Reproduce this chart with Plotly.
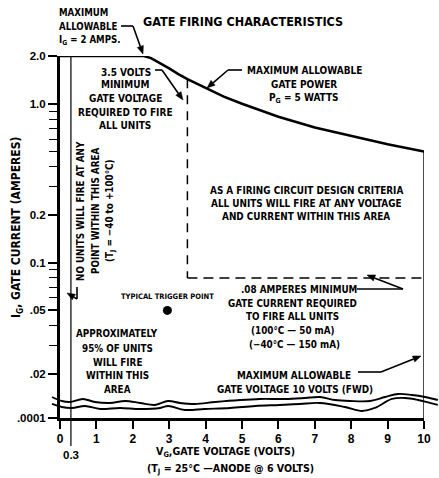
import math
import plotly.graph_objects as go

# ---------------- data ----------------
# maximum allowable gate current (2 A) then maximum gate power (5 W) boundary
curve_volts = [0.0, 2.3, 2.5, 2.75, 3.0, 3.25, 3.5, 4.0, 4.5, 5.0, 5.5, 6.0, 7.0, 8.0, 9.0, 10.0]
curve_amps = [2.0, 2.0, 1.94, 1.81, 1.67, 1.54, 1.43, 1.26, 1.11, 1.0, 0.91, 0.83, 0.71, 0.625, 0.556, 0.5]

# minimum gate voltage (3.5 V) and minimum gate current (0.08 A) dashed limits
min_v_volts = [3.5, 3.5]
min_v_amps = [1.43, 0.08]
min_i_volts = [3.5, 10.0]
min_i_amps = [0.08, 0.08]

# maximum allowable gate voltage (10 V) boundary
max_v_volts = [10.0, 10.0]
max_v_amps = [0.5, 0.0105]

# typical trigger point
trigger_volts = [2.95]
trigger_amps = [0.05]

# no-fire boundary at 0.3 V
nofire_volts = 0.3

# axis-break wavy lines
wave_upper_volts = [-0.22, 0.05, 0.27, 0.63, 0.96, 1.37, 1.79, 2.20, 2.61, 2.97, 3.30, 3.71, 4.26,
                    4.95, 5.49, 6.18, 6.73, 7.14, 7.55, 7.97, 8.52, 8.93, 9.29, 9.67, 10.03, 10.38]
wave_upper_amps = [0.01424, 0.01344, 0.01325, 0.01384, 0.01325, 0.01306, 0.01344, 0.01306, 0.01269,
                   0.01344, 0.01306, 0.01287, 0.01325, 0.01364, 0.01384, 0.01384, 0.01404, 0.01424,
                   0.01364, 0.01344, 0.01344, 0.01424, 0.01488, 0.01466, 0.01424, 0.01364]
wave_lower_volts = [-0.22, 0.05, 0.33, 0.69, 1.10, 1.65, 2.20, 2.75, 2.97, 3.43, 3.98, 4.67, 5.36,
                    6.04, 6.59, 7.14, 7.83, 8.30, 8.65, 9.12, 9.48, 9.84, 10.16, 10.38]
wave_lower_amps = [0.01287, 0.01232, 0.01215, 0.01250, 0.01197, 0.01215, 0.01197, 0.01215, 0.01250,
                   0.01180, 0.01197, 0.01215, 0.01250, 0.01269, 0.01287, 0.01306, 0.01232, 0.01163,
                   0.01215, 0.01384, 0.01404, 0.01364, 0.01306, 0.01269]

# ticks
x_tick_vals = [0, 1, 2, 3, 4, 5, 6, 7, 8, 9, 10]
y_tick_vals = [2.0, 1.0, 0.2, 0.1, 0.05, 0.02, 0.0105]
y_tick_text = ["2.0", "1.0", "0.2", "0.1", ".05", ".02", ".0001"]
y_minor_vals = [0.9, 0.8, 0.7, 0.6, 0.5, 0.4, 0.3, 0.09, 0.08, 0.07, 0.06, 0.04, 0.03]

# ---------------- layout helpers ----------------
W, H = 439, 478
L, R, T, B = 50, 0, 56, 60
PW, PH = W - L - R, H - T - B
X0_PX, X10_PX = 60, 424
V_PER_PX = 10.0 / (X10_PX - X0_PX)


def px(x):
    return (x - L) / PW


def py(y):
    return 1 - (y - T) / PH


FONT = "Liberation Sans Narrow, Arial Narrow, DejaVu Sans Condensed, Roboto, sans-serif"
TICKFONT = "Liberation Sans, Arial, sans-serif"


def txt(text, x, y, size=11, xanchor="center", angle=0, weight="bold"):
    return dict(text=text, x=px(x), y=py(y), xref="paper", yref="paper", showarrow=False,
                xanchor=xanchor, yanchor="middle", align="center", textangle=angle,
                font=dict(family=FONT, size=size, color="black", weight=weight))


def block(texts, xs, ys, size, xanchor="center", angle=0):
    return [txt(t, x, y, size=size, xanchor=xanchor, angle=angle) for t, x, y in zip(texts, xs, ys)]


def seg(x0, y0, x1, y1, w=1.6):
    return dict(type="line", xref="paper", yref="paper", x0=px(x0), y0=py(y0), x1=px(x1), y1=py(y1),
                line=dict(color="black", width=w))


def arrow(hx, hy, tx, ty, length=8.0, half=3.2):
    """Leader line from tail (tx, ty) to a filled arrowhead at (hx, hy), in picture pixels."""
    dx, dy = hx - tx, hy - ty
    n = math.hypot(dx, dy)
    ux, uy = dx / n, dy / n
    bx, by = hx - ux * length, hy - uy * length
    p1 = (bx - uy * half, by + ux * half)
    p2 = (bx + uy * half, by - ux * half)
    path = "M {} {} L {} {} L {} {} Z".format(px(hx), py(hy), px(p1[0]), py(p1[1]), px(p2[0]), py(p2[1]))
    return [seg(tx, ty, bx, by),
            dict(type="path", xref="paper", yref="paper", path=path,
                 fillcolor="black", line=dict(color="black", width=0.5))]


fig = go.Figure()

fig.add_trace(go.Scatter(x=curve_volts, y=curve_amps, mode="lines",
                         line=dict(color="black", width=2.6), hoverinfo="skip"))
fig.add_trace(go.Scatter(x=min_v_volts, y=min_v_amps, mode="lines",
                         line=dict(color="black", width=1.5, dash="9px,7px"), hoverinfo="skip"))
fig.add_trace(go.Scatter(x=min_i_volts, y=min_i_amps, mode="lines",
                         line=dict(color="black", width=1.5, dash="10px,6px"), hoverinfo="skip"))
fig.add_trace(go.Scatter(x=max_v_volts, y=max_v_amps, mode="lines",
                         line=dict(color="black", width=1.4), hoverinfo="skip"))
fig.add_trace(go.Scatter(x=trigger_volts, y=trigger_amps, mode="markers",
                         marker=dict(color="black", size=9), hoverinfo="skip"))
fig.add_trace(go.Scatter(x=wave_upper_volts, y=wave_upper_amps, mode="lines", xaxis="x2", yaxis="y",
                         line=dict(color="black", width=1.9, shape="spline"), hoverinfo="skip"))
fig.add_trace(go.Scatter(x=wave_lower_volts, y=wave_lower_amps, mode="lines", xaxis="x2", yaxis="y",
                         line=dict(color="black", width=1.9, shape="spline"), hoverinfo="skip"))

shapes = [
    dict(type="line", xref="x", yref="paper", x0=nofire_volts, x1=nofire_volts,
         y0=py(446), y1=1, line=dict(color="black", width=1.2)),
    seg(121, 26, 133, 26),
    seg(155, 70, 162, 70),
    seg(228, 70, 242, 70),
    seg(77, 287, 77, 299),
    seg(357, 289, 403, 289),
    seg(358, 372, 381, 372),
]
shapes += arrow(143, 54, 133, 26)
shapes += arrow(183, 100, 162, 70)
shapes += arrow(207, 88, 228, 70)
shapes += arrow(67, 293, 77, 299)
shapes += arrow(367, 275, 403, 289)
shapes += arrow(421, 356, 381, 372)

annotations = [txt("GATE FIRING CHARACTERISTICS", 243, 22, size=12.5)]
annotations += block(["MAXIMUM", "ALLOWABLE", "I<sub>G</sub> = 2 AMPS."],
                     [57, 57, 57], [12, 26, 40], 9.6, xanchor="left")
annotations += block(["3.5 VOLTS", "MINIMUM", "GATE VOLTAGE", "REQUIRED TO FIRE", "ALL UNITS"],
                     [126, 125, 125, 125, 125], [72, 85, 98, 112, 125], 10)
annotations += block(["MAXIMUM ALLOWABLE", "GATE POWER", "P<sub>G</sub> = 5 WATTS"],
                     [304, 304, 304], [71, 84, 98], 10)
annotations += block(["NO UNITS WILL FIRE AT ANY", "POINT WITHIN THIS AREA",
                      "(T<sub>J</sub> = \u221240 to +100\u00b0C)"],
                     [80, 95, 110], [211, 211, 211], 9.8, angle=-90)
annotations += [txt("TYPICAL TRIGGER POINT", 167, 296, size=7.5)]
annotations += block(["APPROXIMATELY", "95% OF UNITS", "WILL FIRE", "WITHIN THIS", "AREA"],
                     [117, 117, 117, 117, 117], [333, 348, 362, 375, 389], 9.8)
annotations += block(["AS A FIRING CIRCUIT DESIGN CRITERIA", "ALL UNITS WILL FIRE AT ANY VOLTAGE",
                      "AND CURRENT WITHIN THIS AREA"],
                     [306, 306, 306], [190, 203, 217], 9.9)
annotations += block([".08 AMPERES MINIMUM", "GATE CURRENT REQUIRED", "TO FIRE ALL UNITS",
                      "(100\u00b0C \u2014 50 mA)", "(\u221240\u00b0C \u2014 150 mA)"],
                     [299, 292, 292, 293, 294], [289, 303, 316, 330, 344], 9.8)
annotations += block(["MAXIMUM ALLOWABLE", "GATE VOLTAGE 10 VOLTS (FWD)"],
                     [294, 295], [375, 389], 9.9)
annotations += block(["V<sub>G</sub>,GATE VOLTAGE (VOLTS)", "(T<sub>J</sub> = 25\u00b0C \u2014ANODE @ 6 VOLTS)"],
                     [225, 230], [452, 469], 10.6)
annotations += [txt("I<sub>G</sub>, GATE CURRENT (AMPERES)", 17, 228, size=12, angle=-90)]
annotations += [dict(text="0.3", x=nofire_volts, y=py(455), xref="x", yref="paper", showarrow=False,
                     xanchor="center", yanchor="middle",
                     font=dict(family=TICKFONT, size=11.5, color="black", weight="bold"))]

fig.update_layout(
    template="none",
    width=W, height=H,
    margin=dict(l=L, r=R, t=T, b=B, pad=0, autoexpand=False),
    paper_bgcolor="white", plot_bgcolor="rgba(0,0,0,0)",
    showlegend=False,
    font=dict(family=FONT, color="black"),
    xaxis=dict(range=[0, 10], domain=[(X0_PX - L) / PW, (X10_PX - L) / PW], anchor="y",
               automargin=False,
               showline=True, linewidth=3, linecolor="black", showgrid=False, zeroline=False,
               ticks="outside", ticklen=8, tickwidth=1.6, tickcolor="black",
               tickmode="array", tickvals=x_tick_vals,
               tickfont=dict(family=TICKFONT, size=12, color="black", weight="bold")),
    xaxis2=dict(range=[(L - X0_PX) * V_PER_PX, (W - R - X0_PX) * V_PER_PX], domain=[0, 1],
                anchor="y", visible=False, showgrid=False, zeroline=False, automargin=False),
    yaxis=dict(type="log", range=[math.log10(0.0105), math.log10(2.0)], domain=[0, 1], anchor="x",
               automargin=False,
               showline=True, linewidth=3, linecolor="black", showgrid=False, zeroline=False,
               ticks="outside", ticklen=9, tickwidth=1.6, tickcolor="black",
               tickmode="array", tickvals=y_tick_vals, ticktext=y_tick_text,
               tickfont=dict(family=TICKFONT, size=11.5, color="black", weight="bold"),
               minor=dict(tickmode="array", tickvals=y_minor_vals, ticks="outside", ticklen=8,
                          tickwidth=1.4, tickcolor="black", showgrid=False)),
    shapes=shapes,
    annotations=annotations,
)

fig.write_html("out.html", config={"displayModeBar": False},
               post_script="document.body.style.margin='0px';")
